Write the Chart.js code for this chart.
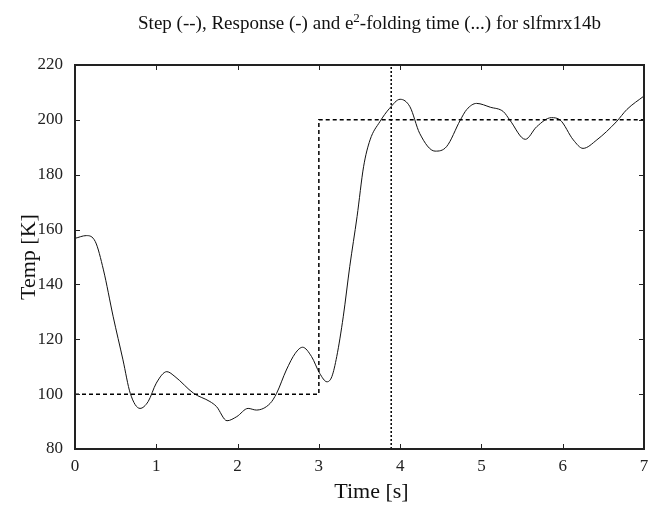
<!DOCTYPE html>
<html>
<head>
<meta charset="utf-8">
<script src="https://cdn.jsdelivr.net/npm/chart.js@4/dist/chart.umd.min.js"></script>
<style>
html,body{margin:0;padding:0;background:#fff;}
#wrap{width:657px;height:509px;}
</style>
</head>
<body>
<div id="wrap"><canvas id="c" width="657" height="509"></canvas></div>
<script>
// ---- data ----
const titleParts = ['Step (--), Response (-) and e', '2', '-folding time (...) for slfmrx14b'];
const xLabel = 'Time [s]';
const yLabel = 'Temp [K]';
const xTicks = [0,1,2,3,4,5,6,7];
const yTicks = [80,100,120,140,160,180,200,220];

const respTime = [0.00,0.14,0.25,0.35,0.47,0.59,0.68,0.80,0.90,1.00,1.13,1.23,1.46,1.66,1.74,1.87,1.99,2.13,2.23,2.40,2.48,2.60,2.71,2.80,2.91,3.01,3.10,3.16,3.22,3.30,3.38,3.47,3.55,3.63,3.75,3.87,4.00,4.12,4.24,4.43,4.57,4.74,4.82,4.94,5.11,5.27,5.35,5.54,5.68,5.86,5.97,6.13,6.25,6.42,6.66,6.79,7.00];
const respTemp = [156.8,157.8,155.6,145.3,128.2,112.5,100.3,94.8,97.3,104.0,108.2,106.4,100.3,97.3,95.5,90.3,91.8,94.8,94.2,96.6,100.3,108.8,114.9,117.1,113.7,107.6,104.5,106.4,113.7,128.2,146.5,164.7,182.9,192.7,199.3,204.2,207.5,204.8,195.1,188.6,190.2,199.9,203.8,206.0,204.6,203.0,199.9,192.9,197.5,200.8,199.9,192.7,189.6,192.7,199.3,203.8,208.7];

const stepTime = [0,3,3,7];
const stepTemp = [100,100,200,200];

const efoldTime = [3.89,3.89];
const efoldTemp = [80,220];

const toXY = (xs, ys) => xs.map((x,i)=>({x:x,y:ys[i]}));

const serif = '"Liberation Serif","Times New Roman",serif';

const framePlugin = {
  id:'frame',
  afterDatasetsDraw(chart){
    const {ctx, chartArea:a, scales:{x,y}} = chart;
    ctx.save();
    ctx.strokeStyle = '#222';
    ctx.lineWidth = 1;
    ctx.beginPath();
    xTicks.forEach(v=>{
      const px = Math.round(x.getPixelForValue(v))+0.5;
      ctx.moveTo(px,a.bottom); ctx.lineTo(px,a.bottom-5);
      ctx.moveTo(px,a.top); ctx.lineTo(px,a.top+5);
    });
    yTicks.forEach(v=>{
      const py = Math.round(y.getPixelForValue(v))+0.5;
      ctx.moveTo(a.left,py); ctx.lineTo(a.left+5,py);
      ctx.moveTo(a.right,py); ctx.lineTo(a.right-5,py);
    });
    ctx.stroke();
    ctx.lineWidth = 2;
    ctx.strokeRect(a.left, a.top, a.right-a.left, a.bottom-a.top);
    ctx.restore();
  },
  afterDraw(chart){
    const {ctx, chartArea:a} = chart;
    ctx.save();
    ctx.fillStyle = '#111';
    ctx.textBaseline = 'alphabetic';
    ctx.textAlign = 'left';
    const big = '19px ' + serif, small = '13px ' + serif;
    ctx.font = big; const w0 = ctx.measureText(titleParts[0]).width;
    ctx.font = small; const w1 = ctx.measureText(titleParts[1]).width;
    ctx.font = big; const w2 = ctx.measureText(titleParts[2]).width;
    const cx = (a.left + a.right)/2 + 10;
    let xs = cx - (w0+w1+w2)/2;
    const base = 29;
    ctx.font = big; ctx.fillText(titleParts[0], xs, base); xs += w0;
    ctx.font = small; ctx.fillText(titleParts[1], xs, base-7); xs += w1;
    ctx.font = big; ctx.fillText(titleParts[2], xs, base);
    // axis titles
    ctx.font = '22px ' + serif;
    ctx.textAlign = 'center';
    ctx.textBaseline = 'middle';
    ctx.fillText(xLabel, (a.left + a.right)/2 + 12, 492);
    ctx.translate(29, (a.top + a.bottom)/2);
    ctx.rotate(-Math.PI/2);
    ctx.fillText(yLabel, 0, 0);
    ctx.restore();
  }
};

new Chart(document.getElementById('c'), {
  type:'line',
  data:{
    datasets:[
      {label:'Step', data:toXY(stepTime,stepTemp), borderColor:'#000', borderWidth:1.5, borderDash:[4,3], pointRadius:0, tension:0},
      {label:'Response', data:toXY(respTime,respTemp), borderColor:'#111', borderWidth:1, pointRadius:0, cubicInterpolationMode:'monotone'},
      {label:'e2-folding time', data:toXY(efoldTime,efoldTemp), borderColor:'#000', borderWidth:1.5, borderDash:[2,2], pointRadius:0, tension:0}
    ]
  },
  options:{
    responsive:false,
    animation:false,
    devicePixelRatio:1,
    layout:{padding:{top:65,right:13,left:0,bottom:0}},
    plugins:{legend:{display:false}, tooltip:{enabled:false}, title:{display:false}},
    scales:{
      x:{
        type:'linear', min:0, max:7,
        afterFit(s){ s.height = 60; },
        afterBuildTicks(s){ s.ticks = xTicks.map(v=>({value:v})); },
        grid:{display:false, drawTicks:false},
        border:{display:false},
        ticks:{color:'#222', font:{family:serif,size:17}, padding:7, maxRotation:0},
        title:{display:false}
      },
      y:{
        type:'linear', min:80, max:220,
        afterFit(s){ s.width = 75; },
        afterBuildTicks(s){ s.ticks = yTicks.map(v=>({value:v})); },
        grid:{display:false, drawTicks:false},
        border:{display:false},
        ticks:{color:'#222', font:{family:serif,size:17}, padding:12},
        title:{display:false}
      }
    }
  },
  plugins:[framePlugin]
});
</script>
</body>
</html>
